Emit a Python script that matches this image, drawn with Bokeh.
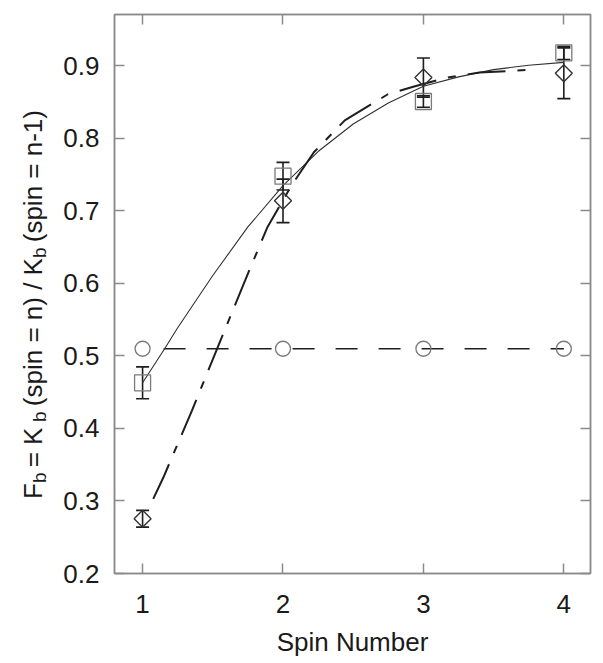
import math
from bokeh.plotting import figure
from bokeh.layouts import row
from bokeh.models import (ColumnDataSource, Whisker, TeeHead, LinearAxis,
                          FixedTicker, Range1d)
from bokeh.core.properties import value
from bokeh.embed import file_html
from bokeh.resources import INLINE

# ---------------- data ----------------
spin = [1, 2, 3, 4]
circle_y = [0.51, 0.51, 0.51, 0.51]
square_y = [0.463, 0.748, 0.851, 0.918]
square_err = [0.022, 0.019, 0.008, 0.009]
diamond_y = [0.2755, 0.714, 0.884, 0.890]
diamond_err = [0.0115, 0.030, 0.027, 0.035]

fit_sq_x = [1.0, 1.157, 1.25, 1.5, 1.75, 2.0, 2.25, 2.5, 2.75, 3.0, 3.25, 3.5, 3.75, 4.0]
fit_sq_y = [0.463, 0.510, 0.539, 0.611, 0.678, 0.735, 0.782, 0.820, 0.849, 0.872, 0.885, 0.895, 0.901, 0.905]
fit_di_x = [1.076, 1.147, 1.35, 1.516, 1.764, 1.89, 2.06, 2.22, 2.44, 2.747, 2.94, 3.17, 3.40, 3.79]
fit_di_y = [0.303, 0.332, 0.424, 0.503, 0.62, 0.678, 0.735, 0.781, 0.825, 0.861, 0.872, 0.884, 0.891, 0.895]

x_ticks = [1, 2, 3, 4]
y_ticks = [0.2, 0.3, 0.4, 0.5, 0.6, 0.7, 0.8, 0.9]
x_title = "Spin Number"
# y title pieces: (text, is_subscript)
y_title = [("F", False), ("b", True), (" = K", False), ("b", True),
           (" (spin = n) / K", False), ("b", True), (" (spin = n-1)", False)]

# ---------------- layout constants ----------------
FONT = "Liberation Sans"
FRAME = "#8a8a8a"
GRAY = "#7a7a7a"
DARK = "#1e1e1e"
TXT = "#1a1a1a"

W, H = 600, 660
LW = 60                      # width of the strip that carries the y title
X0, X1 = 0.8, 4.19
Y0, Y1 = 0.2, 0.971
ML, MR, MT, MB = 113 - LW, W - 590, 14, H - 573

# ---------------- y-title strip ----------------
t = figure(width=LW, height=H, output_backend="svg", toolbar_location=None,
           x_range=Range1d(0, LW), y_range=Range1d(0, H),
           min_border=0, min_border_left=0, min_border_right=0,
           min_border_top=0, min_border_bottom=0)
t.axis.visible = False
t.grid.visible = False
t.outline_line_color = None
t.background_fill_color = "white"
t.border_fill_color = "white"

CHAR_W = {"F": 611, "b": 556, " ": 278, "=": 584, "K": 667, "(": 333, "s": 500,
          "p": 556, "i": 222, "n": 556, ")": 333, "/": 278, "-": 333, "1": 556}
FS_MAIN, FS_SUB = 26, 19
GAP_AFTER_SUB = 8
SLACK = 0.12                 # extra room after a piece, relative to its width
base_x = 32.0
pos = 572.0
tx, ty, tt, tf = [], [], [], []
for txt, sub in y_title:
    fs = FS_SUB if sub else FS_MAIN
    tx.append(base_x + (7 if sub else 0))
    ty.append(H - pos)
    tt.append(txt)
    tf.append(f"{fs}px")
    wdt = sum(CHAR_W[c] for c in txt) / 1000 * fs
    pos -= wdt + (GAP_AFTER_SUB if sub else 1 + SLACK * wdt)
t.text(x=tx, y=ty, text=tt, angle=math.pi / 2, text_font=value(FONT),
       text_font_size=tf, text_color=TXT, text_align="left",
       text_baseline="alphabetic")

# ---------------- main figure ----------------
p = figure(width=W - LW, height=H, output_backend="svg", toolbar_location=None,
           x_range=Range1d(X0, X1), y_range=Range1d(Y0, Y1),
           min_border_left=ML, min_border_right=MR, min_border_top=MT,
           min_border_bottom=MB)
p.background_fill_color = "white"
p.border_fill_color = "white"
p.outline_line_color = FRAME
p.outline_line_width = 1.5
p.xgrid.visible = False
p.ygrid.visible = False


def style_axis(ax, show_labels):
    ax.axis_line_color = FRAME
    ax.axis_line_width = 1.5
    ax.major_tick_line_color = FRAME
    ax.major_tick_line_width = 1.5
    ax.major_tick_in = 10
    ax.major_tick_out = 0
    ax.minor_tick_line_color = None
    ax.major_label_text_font = FONT
    ax.major_label_text_font_size = "26px"
    ax.major_label_text_color = TXT
    if not show_labels:
        ax.major_label_text_font_size = "0px"
        ax.major_label_text_color = None


xa = p.xaxis[0]
xa.ticker = FixedTicker(ticks=x_ticks)
style_axis(xa, True)
xa.major_label_standoff = 21
xa.axis_label = x_title
xa.axis_label_text_font = FONT
xa.axis_label_text_font_size = "26px"
xa.axis_label_text_font_style = "normal"
xa.axis_label_text_color = TXT
xa.axis_label_standoff = 11

ya = p.yaxis[0]
ya.ticker = FixedTicker(ticks=y_ticks)
style_axis(ya, True)
ya.major_label_standoff = 15

top = LinearAxis(ticker=FixedTicker(ticks=x_ticks))
style_axis(top, False)
p.add_layout(top, "above")
right = LinearAxis(ticker=FixedTicker(ticks=y_ticks))
style_axis(right, False)
p.add_layout(right, "right")

# ---------------- series ----------------
p.line(spin, circle_y, line_color=DARK, line_width=1.6, line_dash="22 21",
       line_dash_offset=22)
p.line(fit_sq_x, fit_sq_y, line_color="#303030", line_width=1.1)
p.line(fit_di_x, fit_di_y, line_color=DARK, line_width=2.0, line_dash="38 12 8 12")

p.scatter(spin, circle_y, marker="circle", size=15, line_color=GRAY,
          line_width=1.3, fill_alpha=0)
p.scatter(spin, square_y, marker="square", size=16, line_color=GRAY,
          line_width=1.3, fill_alpha=0)
p.scatter(spin, diamond_y, marker="square", angle=math.pi / 4, size=12,
          line_color="#333333", line_width=1.4, fill_alpha=0)

sq_src = ColumnDataSource(dict(x=spin,
                               lo=[v - e for v, e in zip(square_y, square_err)],
                               hi=[v + e for v, e in zip(square_y, square_err)]))
di_src = ColumnDataSource(dict(x=spin,
                               lo=[v - e for v, e in zip(diamond_y, diamond_err)],
                               hi=[v + e for v, e in zip(diamond_y, diamond_err)]))
for src in (sq_src, di_src):
    w = Whisker(source=src, base="x", lower="lo", upper="hi", dimension="height",
                line_color=DARK, line_width=1.6,
                upper_head=TeeHead(size=13, line_color=DARK, line_width=1.6),
                lower_head=TeeHead(size=13, line_color=DARK, line_width=1.6))
    p.add_layout(w)

layout = row(t, p, spacing=0)
open("out.html", "w").write(file_html(layout, INLINE))
